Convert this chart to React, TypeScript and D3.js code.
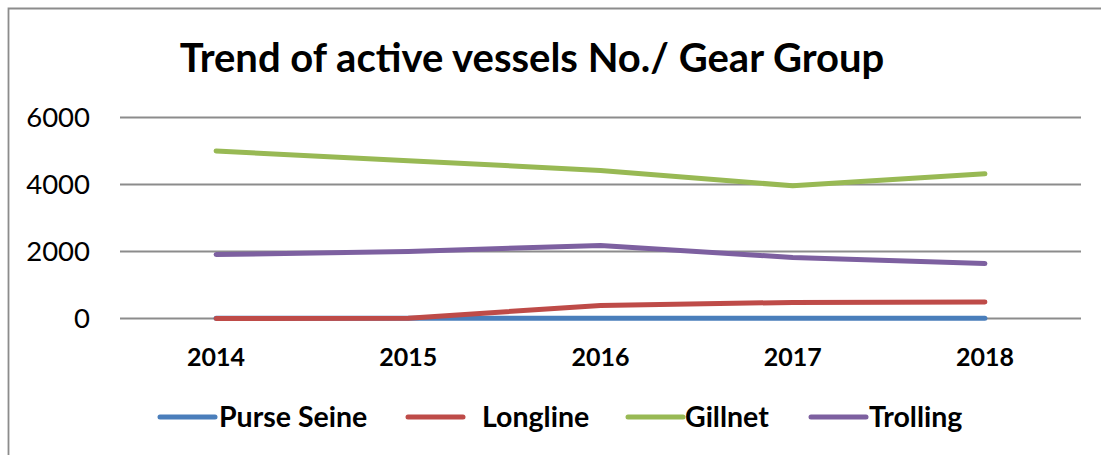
import React from "react";
import * as d3 from "d3";

const years = ["2014", "2015", "2016", "2017", "2018"];
const purseSeine = [5, 5, 5, 5, 5];
const longline = [0, 10, 390, 480, 490];
const gillnet = [5000, 4710, 4420, 3960, 4320];
const trolling = [1910, 2000, 2180, 1820, 1640];
const yTicks = [0, 2000, 4000, 6000];
const seriesNames = ["Purse Seine", "Longline", "Gillnet", "Trolling"];
const seriesColors = ["#4a7ebb", "#be4b48", "#98b954", "#7d60a0"];

const W = 1101;
const H = 455;
const FONT = "Lato, 'Open Sans', sans-serif";

export default function App() {
  const x = d3.scaleBand<string>().domain(years).range([120, 1081]);
  const y = d3.scaleLinear().domain([0, 6000]).range([318.5, 117.5]);
  const line = d3
    .line<number>()
    .x((_, i) => (x(years[i]) as number) + x.bandwidth() / 2)
    .y((d) => y(d));
  const allSeries = [purseSeine, longline, gillnet, trolling];
  const drawOrder = [0, 1, 2, 3];
  const legendLineX = [160, 408, 628, 811];
  const legendTextX = [219, 482, 685, 869];

  return (
    <svg
      width={W}
      height={H}
      style={{ position: "absolute", left: 0, top: 0, background: "#fff" }}
    >
      <rect x={0} y={0} width={W} height={H} fill="#fff" />
      <path d={`M8.5,${H} V8.5 H${W}`} fill="none" stroke="#8c8c8c" strokeWidth={1.8} />
      <text
        x={532}
        y={72}
        textAnchor="middle"
        fontFamily={FONT}
        fontWeight="bold"
        fontSize={40}
        fill="#000"
      >
        Trend of active vessels No./ Gear Group
      </text>
      {yTicks.map((t) => (
        <g key={t}>
          <line x1={120} x2={1081} y1={y(t)} y2={y(t)} stroke="#8c8c8c" strokeWidth={1.8} />
          <text
            x={90}
            y={y(t) + 9.5}
            textAnchor="end"
            fontFamily={FONT}
            fontSize={27.5}
            fill="#000"
          >
            {t}
          </text>
        </g>
      ))}
      {years.map((yr) => (
        <text
          key={yr}
          x={(x(yr) as number) + x.bandwidth() / 2}
          y={366}
          textAnchor="middle"
          fontFamily={FONT}
          fontWeight="bold"
          fontSize={25}
          fill="#000"
        >
          {yr}
        </text>
      ))}
      {drawOrder.map((i) => (
        <path
          key={seriesNames[i]}
          d={line(allSeries[i]) || ""}
          fill="none"
          stroke={seriesColors[i]}
          strokeWidth={5}
          strokeLinecap="round"
          strokeLinejoin="round"
        />
      ))}
      {seriesNames.map((n, i) => (
        <g key={n}>
          <line
            x1={legendLineX[i]}
            x2={legendLineX[i] + 55}
            y1={417}
            y2={417}
            stroke={seriesColors[i]}
            strokeWidth={5}
            strokeLinecap="round"
          />
          <text
            x={legendTextX[i]}
            y={427}
            fontFamily={FONT}
            fontWeight="bold"
            fontSize={28.5}
            fill="#000"
          >
            {n}
          </text>
        </g>
      ))}
    </svg>
  );
}
